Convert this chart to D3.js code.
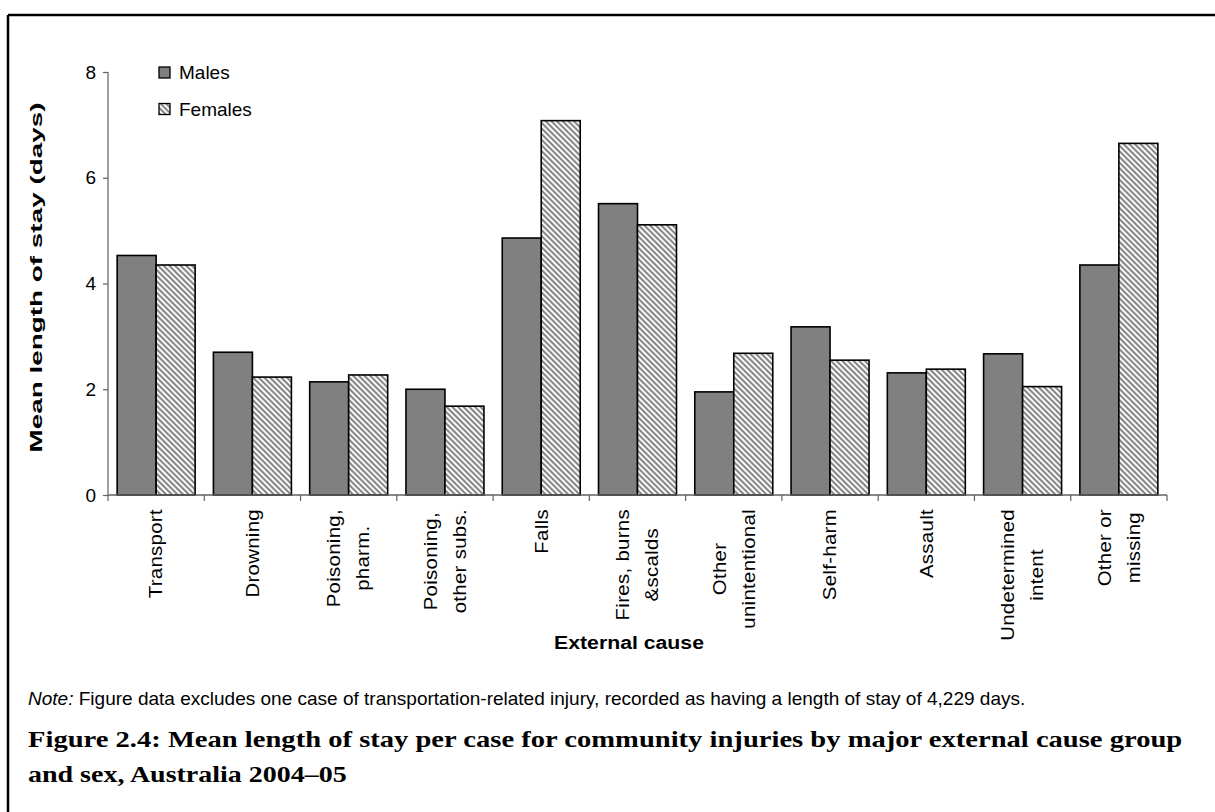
<!DOCTYPE html>
<html>
<head>
<meta charset="utf-8">
<script src="https://cdn.jsdelivr.net/npm/d3@7"></script>
<style>
  html, body { margin: 0; padding: 0; background: #fff; }
  svg { display: block; }
  text { font-family: Arial, "Liberation Sans", sans-serif; fill: #000; }
  text.caption { font-family: "Liberation Serif", "Times New Roman", serif; font-weight: bold; }
</style>
</head>
<body>
<svg id="chart" width="1215" height="812"></svg>
<script>
// External cause groups (line breaks as shown on the axis)
const categories = [
  "Transport", "Drowning", "Poisoning,\npharm.", "Poisoning,\nother subs.",
  "Falls", "Fires, burns\n&scalds", "Other\nunintentional", "Self-harm",
  "Assault", "Undetermined\nintent", "Other or\nmissing"
];
// Mean length of stay (days)
const males   = [4.53, 2.70, 2.14, 2.00, 4.86, 5.51, 1.95, 3.18, 2.31, 2.67, 4.35];
const females = [4.35, 2.23, 2.27, 1.68, 7.08, 5.11, 2.68, 2.55, 2.38, 2.05, 6.65];
const series  = ["Males", "Females"];
const yTicks  = [0, 2, 4, 6, 8];

const svg = d3.select("#chart");

// Stretch factor that makes a text element span `target` px along its baseline.
function stretch(textSel, target) {
  const n = textSel.node().getComputedTextLength();
  return target / n;
}

// Hatch pattern for the female bars
const defs = svg.append("defs");
const pat = defs.append("pattern")
  .attr("id", "hatch")
  .attr("patternUnits", "userSpaceOnUse")
  .attr("width", 4).attr("height", 4)
  .attr("patternTransform", "rotate(-45)");
pat.append("rect").attr("width", 4).attr("height", 4).attr("fill", "#fff");
pat.append("rect").attr("width", 2.1).attr("height", 4).attr("fill", "#878787");

const fills = { Males: "#808080", Females: "url(#hatch)" };

// Outer frame (top and left rules)
svg.append("line").attr("x1", 8).attr("x2", 1215).attr("y1", 15).attr("y2", 15)
  .attr("stroke", "#000").attr("stroke-width", 2.5);
svg.append("line").attr("x1", 8).attr("x2", 8).attr("y1", 15).attr("y2", 812)
  .attr("stroke", "#000").attr("stroke-width", 2.5);

const plotLeft = 108, plotRight = 1167, plotTop = 72, plotBottom = 495;

const x0 = d3.scaleBand().domain(categories).range([plotLeft, plotRight])
  .paddingInner(0.19).paddingOuter(0.095);
const x1 = d3.scaleBand().domain(series).range([0, x0.bandwidth()]);
const y = d3.scaleLinear().domain([0, 8]).range([plotBottom, plotTop]);

const rows = categories.map((c, i) => ({ cat: c, Males: males[i], Females: females[i] }));

// Bars
const groups = svg.append("g").selectAll("g").data(rows).join("g")
  .attr("transform", d => `translate(${x0(d.cat)},0)`);
groups.selectAll("rect")
  .data(d => series.map(s => ({ s, v: d[s] })))
  .join("rect")
  .attr("x", d => x1(d.s))
  .attr("width", x1.bandwidth())
  .attr("y", d => y(d.v))
  .attr("height", d => y(0) - y(d.v))
  .attr("fill", d => fills[d.s])
  .attr("stroke", "#000").attr("stroke-width", 1.6);

// Y axis
const yAxis = svg.append("g").attr("transform", `translate(${plotLeft},0)`)
  .call(d3.axisLeft(y).tickValues(yTicks).tickFormat(d3.format("d")).tickSize(5).tickPadding(7));
yAxis.select(".domain").attr("stroke", "#808080").attr("stroke-width", 1.5)
  .attr("d", `M0,${plotBottom}V${plotTop}`);
yAxis.selectAll(".tick line").attr("stroke", "#606060").attr("stroke-width", 1.2);
yAxis.selectAll(".tick text").attr("font-size", 19).attr("font-family", "Arial, 'Liberation Sans', sans-serif");

// X axis: baseline and category separators
const sepScale = d3.scaleLinear().domain([0, categories.length]).range([plotLeft, plotRight]);
const xAxis = svg.append("g");
xAxis.append("line").attr("x1", plotLeft).attr("x2", plotRight).attr("y1", plotBottom).attr("y2", plotBottom)
  .attr("stroke", "#606060").attr("stroke-width", 1.5);
xAxis.selectAll("line.sep").data(d3.range(categories.length + 1)).join("line")
  .attr("class", "sep")
  .attr("x1", i => sepScale(i)).attr("x2", i => sepScale(i))
  .attr("y1", plotBottom).attr("y2", plotBottom + 6)
  .attr("stroke", "#606060").attr("stroke-width", 1.2);

// Rotated category labels: elongated along the reading direction,
// lines centred on each other, block hanging from the axis
const lineH = 29, labelStretch = 1.13;
const labels = svg.append("g").selectAll("g").data(categories).join("g");
labels.each(function (c) {
  const g = d3.select(this);
  const lines = c.split("\n");
  const cx = x0(c) + x0.bandwidth() / 2;
  const t = g.append("text").attr("font-size", 18).attr("letter-spacing", 0.3)
    .attr("text-anchor", "middle");
  lines.forEach((ln, i) => {
    t.append("tspan").attr("x", 0).attr("y", (i - (lines.length - 1) / 2) * lineH)
      .attr("dy", "0.35em").text(ln);
  });
  let maxLen = 0;
  t.selectAll("tspan").each(function () { maxLen = Math.max(maxLen, this.getComputedTextLength()); });
  g.attr("transform",
    `translate(${cx},${509 + maxLen * labelStretch / 2}) rotate(-90) scale(${labelStretch},1)`);
});

// Axis titles
const yTitle = svg.append("text")
  .attr("text-anchor", "middle").attr("font-weight", "bold").attr("font-size", 17)
  .text("Mean length of stay (days)");
yTitle.attr("transform",
  `translate(42,${(plotTop + plotBottom) / 2 - 6}) rotate(-90) scale(${stretch(yTitle, 350)},1)`);

const xTitle = svg.append("text")
  .attr("text-anchor", "middle").attr("font-weight", "bold").attr("font-size", 19)
  .text("External cause");
xTitle.attr("transform", `translate(629,649) scale(${stretch(xTitle, 150)},1)`);

// Legend
const legend = svg.append("g").selectAll("g").data(series).join("g")
  .attr("transform", (d, i) => `translate(159,${67 + i * 36.5})`);
legend.append("rect").attr("width", 11).attr("height", 11)
  .attr("fill", d => fills[d]).attr("stroke", "#000").attr("stroke-width", 1.3);
legend.append("text").attr("x", 20).attr("y", 5.5).attr("dy", "0.35em")
  .attr("font-size", 19).text(d => d);

// Note
const note = svg.append("text").attr("font-size", 18.5);
note.append("tspan").attr("font-style", "italic").text("Note:");
note.append("tspan").text(" Figure data excludes one case of transportation-related injury, recorded as having a length of stay of 4,229 days.");
note.attr("transform", `translate(28,705) scale(${stretch(note, 998)},1)`);

// Figure caption
const cap1 = svg.append("text").attr("class", "caption").attr("font-size", 24)
  .text("Figure 2.4: Mean length of stay per case for community injuries by major external cause group");
cap1.attr("transform", `translate(28,747) scale(${stretch(cap1, 1155)},1)`);
const cap2 = svg.append("text").attr("class", "caption").attr("font-size", 24)
  .text("and sex, Australia 2004\u201305");
cap2.attr("transform", `translate(28,782) scale(${stretch(cap2, 319)},1)`);
</script>
</body>
</html>
